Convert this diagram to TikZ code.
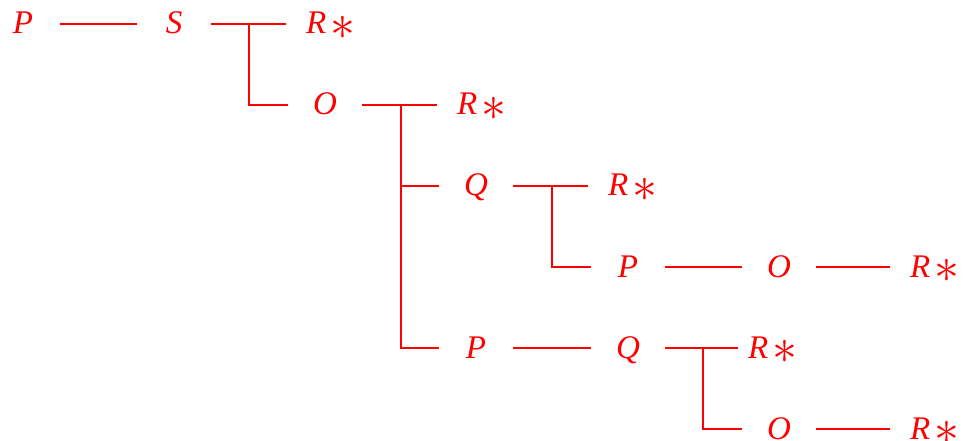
\documentclass[tikz,border=0pt]{standalone}
\usepackage{fontspec}
\usepackage{graphicx}
\setmainfont{Liberation Serif}
\definecolor{tred}{RGB}{255,0,0}
\newcommand{\rstar}{\textit{R}\kern4pt\raisebox{-5.5pt}{\scalebox{2.0}{$\ast$}}}
\tikzset{
  lt/.style={font=\fontsize{33}{40}\selectfont\itshape, text=tred, inner sep=0pt, outer sep=0pt,
    minimum width=74pt, text height=20pt, text depth=0pt},
  rs/.style={font=\fontsize{33}{40}\selectfont, text=tred, inner sep=0pt, outer ysep=0pt,
    outer xsep=20pt, anchor=west, text height=20pt, text depth=0pt},
  rsnear/.style={rs, outer xsep=10pt},
  conn/.style={draw=tred, line width=2.2pt}
}
\begin{document}
\begin{tikzpicture}[x=1pt,y=-1pt]
\useasboundingbox (0,0) rectangle (967,441);
% row 1
\node[lt] (p1) at (23,24) {P};
\node[lt] (s1) at (174,24) {S};
\node[rs] (r1) at (286,24) {\rstar};
% row 2
\node[lt] (o2) at (325,105) {O};
\node[rs] (r2) at (437,105) {\rstar};
% row 3
\node[lt] (q3) at (476,186) {Q};
\node[rs] (r3) at (588,186) {\rstar};
% row 4
\node[lt] (p4) at (628,267) {P};
\node[lt] (o4) at (779,267) {O};
\node[rs] (r4) at (890,267) {\rstar};
% row 5
\node[lt] (p5) at (476,348) {P};
\node[lt] (q5) at (628,348) {Q};
\node[rsnear] (r5) at (738,348) {\rstar};
% row 6
\node[lt] (o6) at (779,429) {O};
\node[rs] (r6) at (890,429) {\rstar};
% branch points
\coordinate (b1) at (249,24);
\coordinate (b2) at (401,105);
\coordinate (b3) at (552,186);
\coordinate (b5) at (703,348);
% connectors
\draw[conn] (p1.east) -- (s1.west);
\draw[conn] (s1.east) -- (r1.west);
\draw[conn] (b1) |- (o2.west);
\draw[conn] (o2.east) -- (r2.west);
\draw[conn] (b2) |- (q3.west);
\draw[conn] (b2) |- (p5.west);
\draw[conn] (q3.east) -- (r3.west);
\draw[conn] (b3) |- (p4.west);
\draw[conn] (p4.east) -- (o4.west);
\draw[conn] (o4.east) -- (r4.west);
\draw[conn] (p5.east) -- (q5.west);
\draw[conn] (q5.east) -- (r5.west);
\draw[conn] (b5) |- (o6.west);
\draw[conn] (o6.east) -- (r6.west);
\end{tikzpicture}
\end{document}
